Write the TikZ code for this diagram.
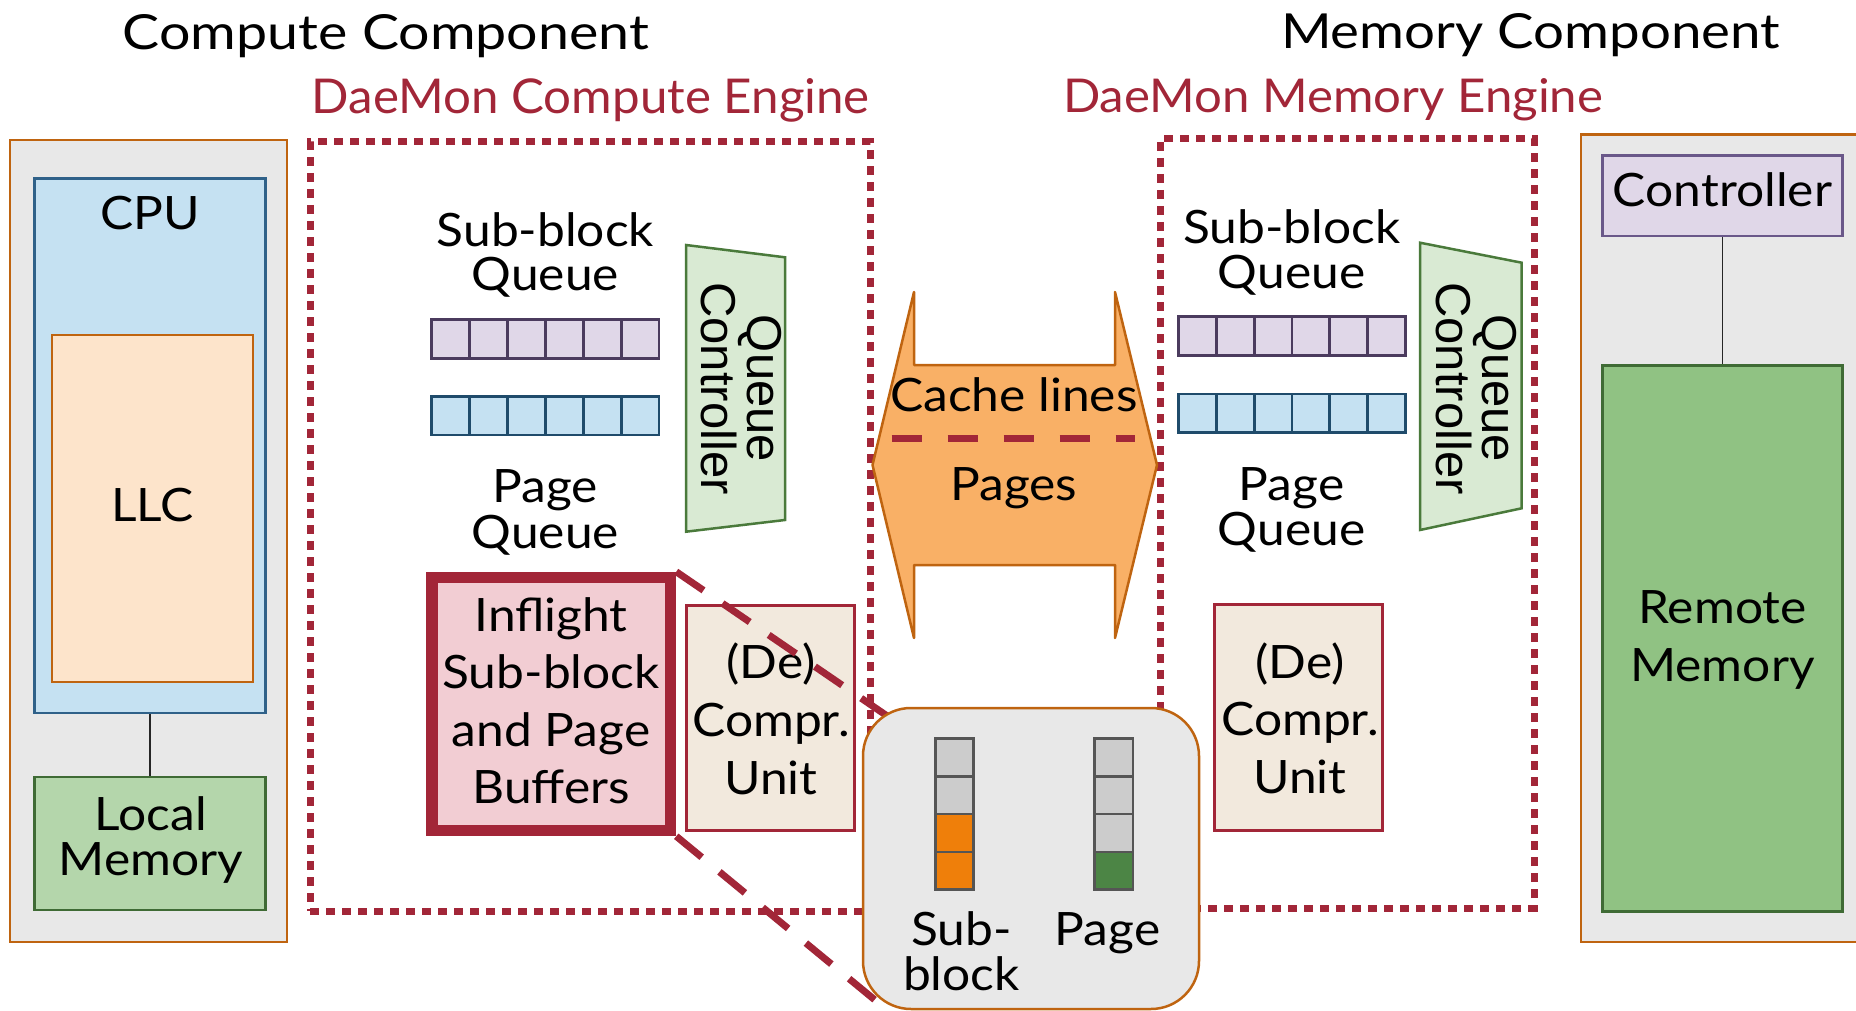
\documentclass[tikz,border=0pt]{standalone}
\usepackage{fontspec}
\usepackage{graphicx}
\setmainfont{Lato}[FakeStretch=1.08]
\newfontfamily\arialf{Liberation Sans}
\usetikzlibrary{calc}
\pgfdeclarelayer{front}
\pgfsetlayers{main,front}

\definecolor{obord}{HTML}{BF6410}
\definecolor{grayfill}{HTML}{E8E8E8}
\definecolor{cpufill}{HTML}{C5E1F2}
\definecolor{cpubord}{HTML}{2F6189}
\definecolor{llcfill}{HTML}{FDE4CB}
\definecolor{lmfill}{HTML}{B4D6AB}
\definecolor{gbord}{HTML}{3F6B35}
\definecolor{dred}{HTML}{A22638}
\definecolor{pqfill}{HTML}{E0D7E8}
\definecolor{pqbord}{HTML}{4B3B5E}
\definecolor{bqfill}{HTML}{C5E1F2}
\definecolor{bqbord}{HTML}{1F4B6B}
\definecolor{qcfill}{HTML}{D9EAD3}
\definecolor{qcbord}{HTML}{4A7A3B}
\definecolor{infill}{HTML}{F2CDD3}
\definecolor{dcfill}{HTML}{F2E9DD}
\definecolor{arrfill}{HTML}{F9B066}
\definecolor{cellgray}{HTML}{CCCCCC}
\definecolor{cellbord}{HTML}{555555}
\definecolor{cellorange}{HTML}{EF7F0A}
\definecolor{cellgreen}{HTML}{4C8545}
\definecolor{ctrlbord}{HTML}{6A5889}
\definecolor{rmfill}{HTML}{90C283}

\newcommand\bodyfont{\fontsize{46}{46}\selectfont}
\newcommand\rotfont{\arialf\fontsize{49}{49}\selectfont}
\newcommand\ml[2]{\vtop{\baselineskip=#1pt\lineskiplimit=-1000pt\lineskip=0pt\halign{\hfil##\hfil\cr#2\crcr}}}

\tikzset{
  plainbox/.style={rectangle, draw, inner sep=0pt},
  qcell/.style={rectangle, draw, line width=2.8, inner sep=0pt},
  txt/.style={inner sep=0pt, outer sep=0pt, anchor=base, font=\bodyfont, text=black},
  rottxt/.style={inner sep=0pt, outer sep=0pt, anchor=base, font=\rotfont, rotate=-90},
  enginebox/.style={rectangle, draw=dred, line width=7, dash pattern=on 9 off 7, inner sep=0pt},
  thinline/.style={draw=black!85, line width=1.3},
  zoomline/.style={draw=dred, line width=7, dash pattern=on 33 off 23},
  qctrap/.style={draw=qcbord, fill=qcfill, line width=2.5},
}

\begin{document}
\begin{tikzpicture}[x=1pt,y=-1pt]
\useasboundingbox (0,0) rectangle (1856,1011);

% headers
\node[txt] (hC) at (386,50) {\resizebox{526pt}{35pt}{Compute Component}};
\node[txt] (hM) at (1530.5,48.3) {\resizebox{499pt}{35pt}{Memory Component}};
\node[txt, text=dred] (hCE) at (590.8,113.3) {\resizebox{558pt}{35pt}{DaeMon Compute Engine}};
\node[txt, text=dred] (hME) at (1333,112.3) {\resizebox{540pt}{34pt}{DaeMon Memory Engine}};

% component boxes
\node[plainbox, draw=obord, fill=grayfill, line width=2.5, minimum width=277pt, minimum height=802pt] (compL) at (148.5,541) {};
\node[plainbox, draw=obord, fill=grayfill, line width=2.5, minimum width=299pt, minimum height=807.5pt] (memR) at (1730.5,538.25) {};

\node[plainbox, draw=cpubord, fill=cpufill, line width=2.5, minimum width=231pt, minimum height=534.5pt] (cpu) at (150,445.75) {};
\node[plainbox, draw=obord, fill=llcfill, line width=2.5, minimum width=201pt, minimum height=347pt] (llc) at (152.5,508.5) {};
\node[plainbox, draw=gbord, fill=lmfill, line width=2.5, minimum width=231pt, minimum height=133pt] (lmem) at (150,843.5) {};
\draw[thinline] (cpu.south) -- (lmem.north);

\node[txt] (cpuT) at (150,230) {CPU};
\node[txt] (llcT) at (152.4,521.7) {LLC};
\node[txt] (lmT) at (151,830) {\ml{45}{Local\cr Memory}};

\node[plainbox, draw=ctrlbord, fill=pqfill, line width=2.5, minimum width=240.4pt, minimum height=80.3pt] (ctrl) at (1722.5,195.85) {};
\node[plainbox, draw=gbord, fill=rmfill, line width=2.5, minimum width=240.4pt, minimum height=546.4pt] (remote) at (1722.5,638.5) {};
\draw[thinline] (ctrl.south) -- (remote.north);
\node[txt] (ctrlT) at (1722.5,206.7) {Controller};
\node[txt] (remT) at (1722.5,623.3) {\ml{58.4}{Remote\cr Memory}};

% engines
\node[enginebox, minimum width=560pt, minimum height=769pt] (engC) at (590,526.5) {};
\node[enginebox, minimum width=374pt, minimum height=769pt] (engM) at (1347,523.5) {};

% compute engine contents
\node[txt] (sbqL) at (545.4,246.7) {\ml{44}{Sub-block\cr Queue}};
\node[txt] (pqL) at (545.4,502.7) {\ml{45.6}{Page\cr Queue}};
\foreach \i in {0,...,5} {
  \node[qcell, draw=pqbord, fill=pqfill, minimum width=37.88pt, minimum height=39pt] (sqL\i) at ({431.7+37.88*(\i+0.5)},338.8) {};
  \node[qcell, draw=bqbord, fill=bqfill, minimum width=37.88pt, minimum height=38.3pt] (bqL\i) at ({431.7+37.88*(\i+0.5)},415.85) {};
}
\draw[qctrap] (686,245) -- (785,257.3) -- (785,520) -- (686,531.7) -- cycle;
\node[rottxt] (qcLT) at (747.3,388.5) {\ml{46}{Queue\cr Controller}};

\node[plainbox, draw=dred, fill=infill, line width=11.5, minimum width=238.5pt, minimum height=253pt] (inflight) at (551.25,704) {};
\node[txt] (infT) at (551,631.7) {\ml{57.2}{Inflight\cr Sub-block\cr and Page\cr Buffers}};
\node[plainbox, draw=dred, fill=dcfill, line width=3, minimum width=168pt, minimum height=225pt] (dcL) at (770.5,717.5) {};
\node[txt] (dcLT) at (771,678.3) {\ml{58}{(De)\cr Compr.\cr Unit}};

% memory engine contents
\node[txt] (sbqR) at (1291.6,243.3) {\ml{45}{Sub-block\cr Queue}};
\node[txt] (pqR) at (1291.6,500) {\ml{45}{Page\cr Queue}};
\foreach \i in {0,...,5} {
  \node[qcell, draw=pqbord, fill=pqfill, minimum width=37.85pt, minimum height=39pt] (sqR\i) at ({1178.4+37.85*(\i+0.5)},336.2) {};
  \node[qcell, draw=bqbord, fill=bqfill, minimum width=37.85pt, minimum height=38.7pt] (bqR\i) at ({1178.4+37.85*(\i+0.5)},413.35) {};
}
\draw[qctrap] (1420,242.7) -- (1521.7,262.7) -- (1521.7,508.3) -- (1420,530) -- cycle;
\node[rottxt] (qcRT) at (1482.3,388.5) {\ml{46}{Queue\cr Controller}};
\node[plainbox, draw=dred, fill=dcfill, line width=3, minimum width=168.1pt, minimum height=226pt] (dcR) at (1298.35,717) {};
\node[txt] (dcRT) at (1300,678) {\ml{57.5}{(De)\cr Compr.\cr Unit}};

% double arrow
\draw[draw=obord, fill=arrfill, line width=2.5, line join=round]
  (914,365) -- (914,292) -- (872.5,465) -- (914,638) -- (914,565) -- (1115,565)
  -- (1115,638) -- (1157,465) -- (1115,292) -- (1115,365) -- cycle;
\coordinate (sepL) at (891.7,438.3);
\coordinate (sepR) at (1135.4,438.3);
\draw[draw=dred, line width=7.5, dash pattern=on 30.5 off 25.5] (sepL) -- (sepR);
\node[txt] (cacheT) at (1014,411.7) {Cache lines};
\node[txt] (pagesT) at (1014,500) {Pages};

% zoom box (front layer)
\begin{pgfonlayer}{front}
\node[plainbox, draw=obord, fill=grayfill, line width=2.5, rounded corners=48, minimum width=336pt, minimum height=301pt] (zoom) at (1031,858.5) {};
\foreach \r/\c in {0/cellgray,1/cellgray,2/cellorange,3/cellorange} {
  \node[qcell, draw=cellbord, fill=\c, minimum width=38.5pt, minimum height=37.9pt] (zs\r) at (954.55,{757.2+37.9*\r}) {};
}
\foreach \r/\c in {0/cellgray,1/cellgray,2/cellgray,3/cellgreen} {
  \node[qcell, draw=cellbord, fill=\c, minimum width=38.5pt, minimum height=37.9pt] (zp\r) at (1113.65,{757.2+37.9*\r}) {};
}
\node[txt] (zsT) at (961.5,945) {\ml{45.7}{Sub-\cr block}};
\node[txt] (zpT) at (1107.5,945) {Page};
\end{pgfonlayer}

% zoom connectors
\coordinate (zin1) at (897,722.7);
\coordinate (zin2) at (890.7,1013);
\draw[zoomline] (inflight.north east) -- (zin1);
\draw[zoomline] (inflight.south east) -- (zin2);
\end{tikzpicture}
\end{document}
